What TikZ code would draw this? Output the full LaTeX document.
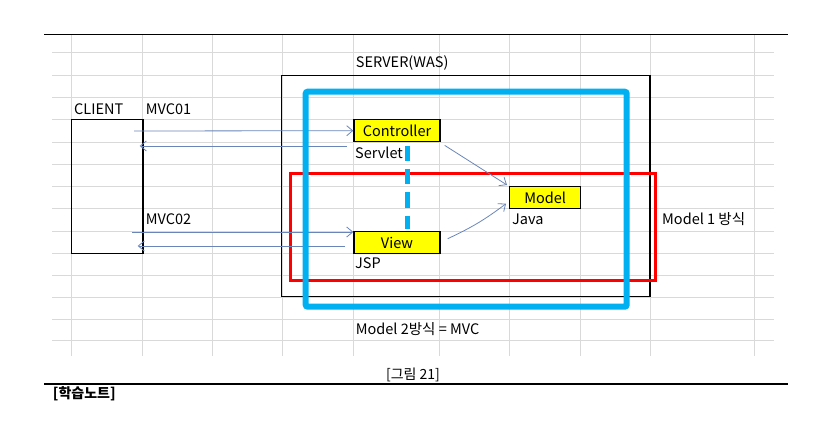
\documentclass[tikz,border=0pt]{standalone}
\usepackage{fontspec}
\setmainfont{Noto Sans CJK KR}
\usetikzlibrary{arrows.meta,positioning,calc}
\definecolor{GridGray}{HTML}{D9D9D9}
\definecolor{Sky}     {HTML}{00B0F0}
\definecolor{Steel}   {HTML}{6A86B8}
\definecolor{Yel}     {HTML}{FFFF00}

\begin{document}
\begin{tikzpicture}[x=1pt,y=-1pt,
  txt/.style={font=\fontsize{14.5}{17}\selectfont,inner sep=0pt,anchor=base west},
  comp/.style={draw=black,line width=1.4pt,fill=Yel,rectangle,anchor=north west,
    font=\fontsize{14.5}{17}\selectfont,inner sep=0pt,minimum height=22pt},
  arr/.style={-{Straight Barb[length=6pt,width=10pt]},line width=0.8pt,draw=Steel},
  grd/.style={draw=GridGray,line width=0.8pt},
  dsh/.style={draw=Sky,line width=5pt,dash pattern=on 15.5pt off 7.8pt}
]
\useasboundingbox (0,0) rectangle (820,438);
\foreach \y in {52,75,97,119,142,164,186,208,231,253,275,297,319,340}
  \draw[grd](52,\y)--(774,\y);
\foreach \x in {71.7,142.3,212.3,282.3,353.3,439.3,509.3,580.7,650.7,754.3}
  \draw[grd](\x,35)--(\x,355.7);
\draw[line width=1.2pt](44,34.3)--(788,34.3);
\draw[line width=1.2pt](44,384)--(788,384);

\node[draw,line width=1.4pt,anchor=north west,minimum width=71.6pt,
  minimum height=133.7pt,inner sep=0pt](client) at (70.7,119){};
\draw[line width=1.2pt](281.7,75.7) rectangle (650,296.7);
\draw[draw=red,line width=3pt](290,174) rectangle (655,280.7);

\node[txt](cl) at (74,114.3){CLIENT};
\node[txt](m1) at (145.7,114.3){MVC01};
\node[txt](m2) at (145.7,225){MVC02};
\node[txt](srv) at (355.7,67.7){SERVER(WAS)};
\node[comp,minimum width=86pt](ctrl) at (353.3,119){Controller};
\node[txt](svl) at (355,158.3){Servlet};
\node[comp,minimum width=86pt](view) at (353.3,231){View};
\node[txt](jsp) at (355,269){JSP};
\node[comp,minimum width=71pt](model) at (509,186){Model};
\node[txt](java) at (512,224.3){Java};
\node[txt](m1way) at (662,224.3){Model 1 방식};
\node[txt](m2way) at (355.7,335){Model 2방식 = MVC};
\node[font=\fontsize{14}{16}\selectfont,inner sep=0pt,anchor=base](fig) at (413,379.5){[그림 21]};
\node[txt,font=\fontsize{14}{16}\selectfont\bfseries](note) at (52.7,399){[학습노트]};

\coordinate (m1a) at (134,131);
\coordinate (m1b) at (347,146);
\coordinate (m2a) at (132,232);
\coordinate (m2b) at (345,246);
\draw[arr](m1a)--(ctrl.west);
\draw[arr](m1b)--($(client.east|-m1b)+(-4,0)$);
\draw[arr](m2a)--([yshift=-1pt]view.north west);
\draw[arr](m2b)--($(client.east|-m2b)+(-6,0)$);
\draw[arr]([shift={(4,3)}]ctrl.south east)--([shift={(-2,-1)}]model.north west);
\draw[arr]([shift={(7,-4)}]view.east) to[bend right=6] ([shift={(-3,6)}]model.west);

\draw[draw=Sky,line width=6pt,rounded corners=2pt](305.7,91.7) rectangle (626.7,306.7);
\draw[dsh]([shift={(10.4,3.3)}]ctrl.south)--([xshift=10.4pt,yshift=1.5pt]view.north);
\end{tikzpicture}
\end{document}
